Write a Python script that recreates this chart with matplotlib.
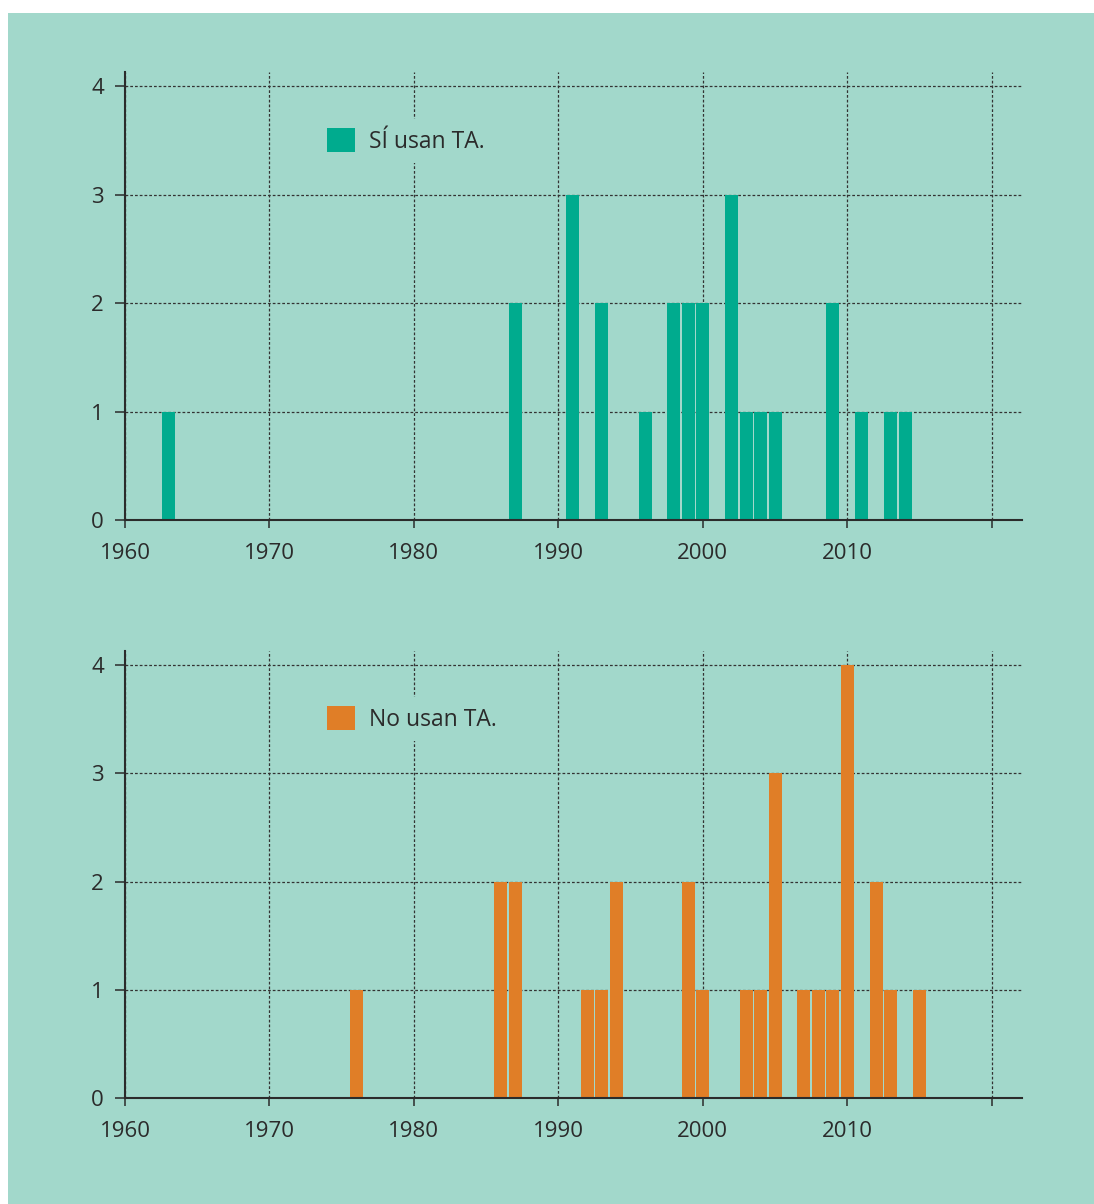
"""Two stacked bar charts: papers per year that do / do not use TA."""

import matplotlib
matplotlib.use("Agg")
import matplotlib.pyplot as plt
from matplotlib.patches import Rectangle

# ---------------------------------------------------------------------------
# Data
# ---------------------------------------------------------------------------

SI_YEARS = [1963, 1987, 1991, 1993, 1996, 1998, 1999, 2000, 2002, 2003,
            2004, 2005, 2009, 2011, 2013, 2014]
SI_COUNTS = [1, 2, 3, 2, 1, 2, 2, 2, 3, 1, 1, 1, 2, 1, 1, 1]

NO_YEARS = [1976, 1986, 1987, 1992, 1993, 1994, 1999, 2000, 2003, 2004,
            2005, 2007, 2008, 2009, 2010, 2012, 2013, 2015]
NO_COUNTS = [1, 2, 2, 1, 1, 2, 2, 1, 1, 1, 3, 1, 1, 1, 4, 2, 1, 1]

X_TICKS = [1960, 1970, 1980, 1990, 2000, 2010, 2020]
X_TICK_LABELS = ["1960", "1970", "1980", "1990", "2000", "2010", ""]
Y_TICKS = [0, 1, 2, 3, 4]

SI_LABEL = "SÍ usan TA."
NO_LABEL = "No usan TA."

# ---------------------------------------------------------------------------
# Style
# ---------------------------------------------------------------------------

BG = "#A2D8CB"
TEAL = "#00AB8E"
ORANGE = "#E07E27"
INK = "#2B2B2B"

plt.rcParams["font.family"] = ["Open Sans", "DejaVu Sans"]

W, H = 1094, 1204


def draw_panel(ax, years, counts, color, label, legend_y):
    ax.set_facecolor(BG)
    ax.bar(years, counts, width=0.9, color=color, label=label, zorder=3)

    ax.set_xlim(1960, 2022.1)
    ax.set_ylim(0, 4.13)
    ax.set_xticks(X_TICKS)
    ax.set_xticklabels(X_TICK_LABELS)
    ax.set_yticks(Y_TICKS)

    # dotted grid
    ax.grid(True, color="#333333", linewidth=0.9, linestyle=(0, (2.2, 1.6)), zorder=1)

    for side in ("top", "right"):
        ax.spines[side].set_visible(False)
    for side in ("left", "bottom"):
        ax.spines[side].set_linewidth(1.5)
        ax.spines[side].set_color(INK)
        ax.spines[side].set_zorder(4)

    ax.tick_params(axis="y", length=7.2, width=1.1, color=INK, pad=8,
                   labelsize=16, labelcolor=INK)
    ax.tick_params(axis="x", length=5.8, width=1.1, color=INK, pad=10.5,
                   labelsize=16, labelcolor=INK)

    leg = ax.legend(loc="center left", bbox_to_anchor=(0.2018, legend_y),
                    fontsize=16.5, frameon=True, fancybox=False,
                    facecolor=BG, edgecolor="none", framealpha=1,
                    handlelength=1.22, handleheight=1.22, handletextpad=0.62,
                    borderpad=0.4)
    for t in leg.get_texts():
        t.set_color(INK)
    return leg


fig = plt.figure(figsize=(W / 100, H / 100), dpi=100, facecolor="white")

# green panel behind everything (white strip on top and left)
fig.patches.append(Rectangle((8 / W, 0), 1 - 8 / W, 1 - 13 / H,
                             transform=fig.transFigure, facecolor=BG,
                             edgecolor="none", zorder=-10))

left = 125 / W
width = (1022 - 125) / W

ax_top = fig.add_axes([left, 1 - 520 / H, width, (520 - 72) / H])
ax_bot = fig.add_axes([left, 1 - 1098 / H, width, (1098 - 651) / H])

draw_panel(ax_top, SI_YEARS, SI_COUNTS, TEAL, SI_LABEL, 0.846)
draw_panel(ax_bot, NO_YEARS, NO_COUNTS, ORANGE, NO_LABEL, 0.848)

fig.savefig("out.png", dpi=100, facecolor="white")
